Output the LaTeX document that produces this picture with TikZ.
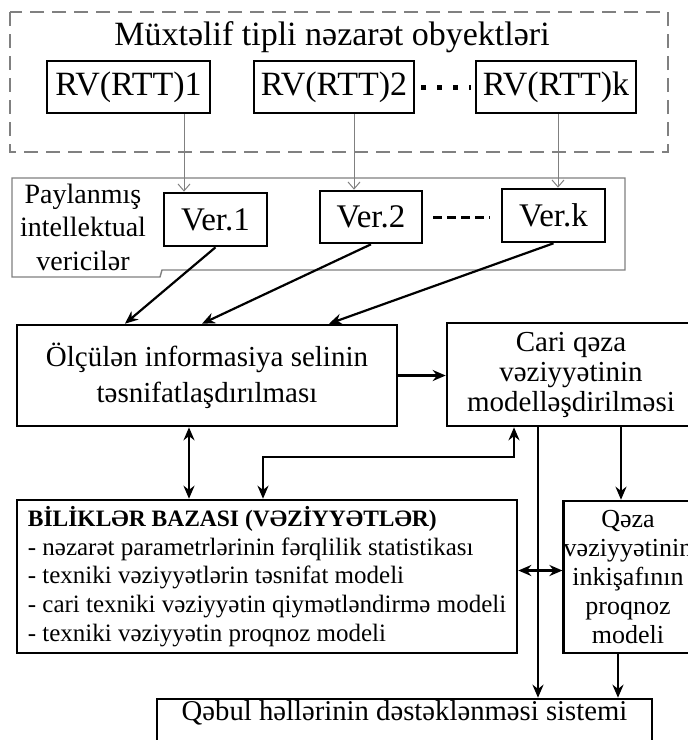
\documentclass[tikz,border=0pt]{standalone}
\usepackage{fontspec}
\setmainfont{Liberation Serif}
\usetikzlibrary{arrows.meta, positioning, calc}
\newcommand{\fsz}[2]{\fontsize{#1}{#2}\selectfont}
\tikzset{
  box/.style={rectangle, draw=black, line width=2.6pt, inner sep=0pt, align=center},
  flow/.style={-{Stealth[length=13pt,width=11pt]}, line width=2.2pt},
  both/.style={{Stealth[length=13pt,width=11pt]}-{Stealth[length=13pt,width=11pt]}, line width=2.2pt},
  feed/.style={-{Straight Barb[length=7pt,width=12pt]}, draw=gray, line width=1pt},
  objframe/.style={draw=gray, line width=1.8pt, dash pattern=on 14pt off 8pt},
  senframe/.style={draw=gray, line width=1.4pt}
}
\begin{document}
\begin{tikzpicture}[x=1pt, y=-1pt]
  \useasboundingbox (0,0) rectangle (688,740);
  % control objects
  \draw[objframe] (10,12) rectangle (668,152);
  \node[anchor=base, font=\fsz{34}{40}] (title) at (332,45) {Müxtəlif tipli nəzarət obyektləri};
  \node[box, font=\fsz{34}{40}, minimum width=163pt, minimum height=52pt] (rv1) at (128.5,87) {RV(RTT)1};
  \node[box, font=\fsz{34}{40}, minimum width=160pt, minimum height=52pt] (rv2) at (334,87) {RV(RTT)2};
  \node[box, font=\fsz{34}{40}, minimum width=160pt, minimum height=52pt] (rvk) at (556,87) {RV(RTT)k};
  \draw[line width=5pt, dash pattern=on 5pt off 11pt, shorten <=6pt, shorten >=4pt] (rv2.east) -- (rvk.west);
  % sensors
  \draw[senframe] (12,178) -- (625,178) -- (625,270) -- (162,270) -- (160,277) -- (12,277) -- cycle;
  \node[font=\fsz{28}{33.5}, align=center] (payl) at (83,227) {Paylanmış\\intellektual\\vericilər};
  \node[box, font=\fsz{33}{38}, minimum width=103pt, minimum height=53pt] (ver1) at (215.5,219.5) {Ver.1};
  \node[box, font=\fsz{33}{38}, minimum width=102pt, minimum height=52pt] (ver2) at (371,217) {Ver.2};
  \node[box, font=\fsz{33}{38}, minimum width=103pt, minimum height=53pt] (verk) at (553.5,215.5) {Ver.k};
  \draw[line width=3pt, dash pattern=on 9pt off 5pt, shorten <=10pt, shorten >=11pt] (ver2.east) -- (ver2.east -| verk.west);
  \draw[feed] ([xshift=55.5pt]rv1.south) -- ([xshift=55.5pt]rv1.south |- ver1.north);
  \draw[feed] ([xshift=20pt]rv2.south) -- ([xshift=20pt]rv2.south |- ver2.north);
  \draw[feed] ([xshift=2pt]rvk.south) -- ([xshift=2pt]rvk.south |- verk.north);
  % processing
  \node[box, font=\fsz{29}{36}, minimum width=380pt, minimum height=101pt] (olc) at (207,375.5) {Ölçülən informasiya selinin\\təsnifatlaşdırılması};
  \node[box, font=\fsz{29}{30}, minimum width=248pt, minimum height=103pt] (cari) at (571,374.5) {Cari qəza\\vəziyyətinin\\modelləşdirilməsi};
  \draw[flow] (ver1.south) -- ([xshift=-82pt]olc.north);
  \draw[flow] (ver2.south) -- ([xshift=-5pt]olc.north);
  \draw[flow] (verk.south) -- ([xshift=122pt]olc.north);
  \draw[flow] (olc.east) -- (olc.east -| cari.west);
  % knowledge base and forecast
  \node[box, font=\fsz{25}{28.7}, minimum width=500pt, minimum height=153pt, align=left] (bil) at (267,576.5)
    {{\fsz{23.5}{28.7}\textbf{BİLİKLƏR BAZASI (VƏZİYYƏTLƏR)}}\\
     - nəzarət parametrlərinin fərqlilik statistikası\\
     - texniki vəziyyətlərin təsnifat modeli\\
     - cari texniki vəziyyətin qiymətləndirmə modeli\\
     - texniki vəziyyətin proqnoz modeli};
  \node[box, font=\fsz{26}{29}, minimum width=126pt, minimum height=152pt] (qeza) at (628,577) {Qəza\\vəziyyətinin\\inkişafının\\proqnoz\\modeli};
  \node[box, font=\fsz{28.7}{34}, text height=21pt, text depth=40pt, minimum width=495pt] (qeb) at (404.5,729.5) {Qəbul həllərinin dəstəklənməsi sistemi};
  \coordinate (elb) at (263,457);
  \draw[both] ([xshift=-18pt]olc.south) -- ([xshift=-18pt]olc.south |- bil.north);
  \draw[both] ([xshift=-57pt]cari.south) |- (elb) -- (elb |- bil.north);
  \draw[flow] ([xshift=-33pt]cari.south) -- ([xshift=-33pt]cari.south |- qeb.north);
  \draw[flow] ([xshift=50pt]cari.south) -- ([xshift=50pt]cari.south |- qeza.north);
  \draw[both] ([yshift=6pt]bil.east) -- ([yshift=6pt]bil.east -| qeza.west);
  \draw[flow] ([xshift=-10pt]qeza.south) -- ([xshift=-10pt]qeza.south |- qeb.north);
\end{tikzpicture}
\end{document}
